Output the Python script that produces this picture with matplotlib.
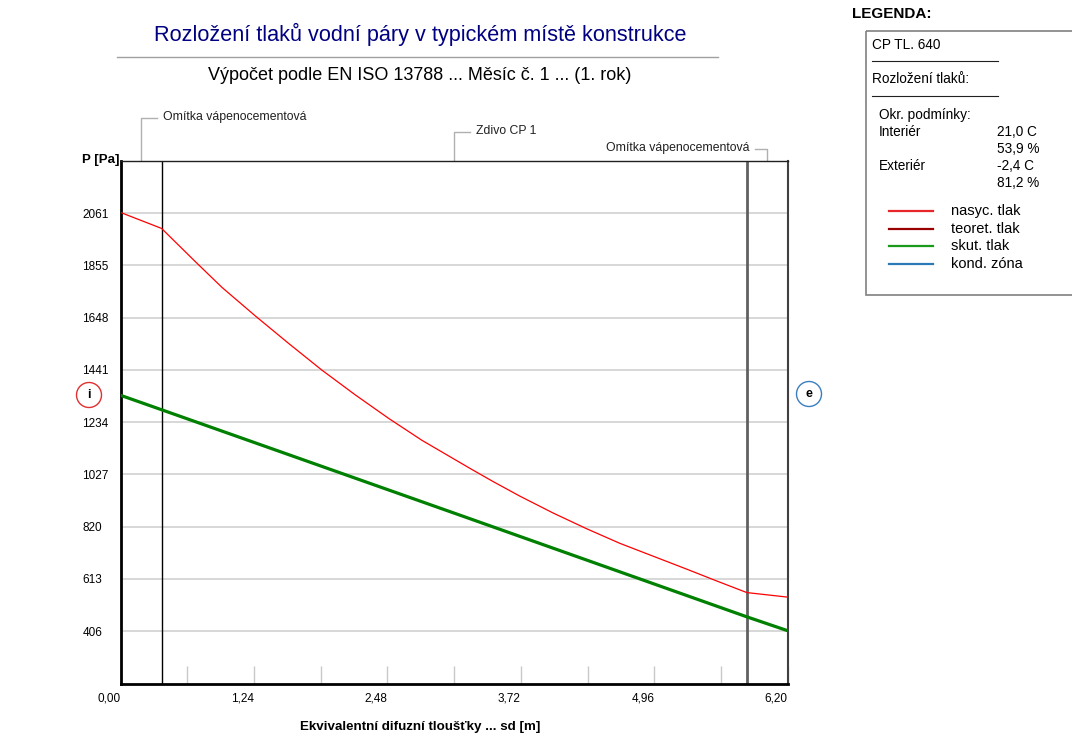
import matplotlib.pyplot as plt
from matplotlib.patches import Circle, Rectangle

plt.rcParams['font.family'] = ['Liberation Sans', 'DejaVu Sans']

# construction layers (equivalent diffusion thickness sd, m)
layer_names = ['Omítka vápenocementová', 'Zdivo CP 1', 'Omítka vápenocementová']
layer_edges = [0.0, 0.38, 5.82, 6.20]

# saturated vapour pressure (nasyc. tlak), Pa
sat_sd = [0.0, 0.38, 0.69, 0.94, 1.25, 1.56, 1.87, 2.18, 2.49, 2.80, 3.25,
          3.46, 3.71, 4.02, 4.33, 4.64, 4.95, 5.26, 5.54, 5.82, 6.20]
sat_p = [2064, 2001, 1871, 1768, 1655, 1546, 1440, 1342, 1249, 1162, 1050,
         999, 941, 874, 812, 754, 703, 652, 605, 559, 541]

# actual vapour pressure (skut. tlak), Pa
act_sd = [0.0, 0.38, 3.25, 5.82, 6.20]
act_p = [1340, 1283, 851, 463, 408]

x_ticks = [0.0, 0.62, 1.24, 1.86, 2.48, 3.10, 3.72, 4.34, 4.96, 5.58, 6.20]
x_tick_labels = ['0,00', '', '1,24', '', '2,48', '', '3,72', '', '4,96', '', '6,20']
y_ticks = [406, 613, 820, 1027, 1234, 1441, 1648, 1855, 2061]
y_tick_labels = ['406', '613', '820', '1027', '1234', '1441', '1648', '1855', '2061']

legend_labels = ['nasyc. tlak', 'teoret. tlak', 'skut. tlak', 'kond. zóna']
legend_colors = ['#e8262a', '#990000', '#1a9a1a', '#2a7ab8']

cond_rows = [('Interiér', '21,0 C'), ('', '53,9 %'), ('Exteriér', '-2,4 C'), ('', '81,2 %')]

W, H = 1072, 738
fig = plt.figure(figsize=(W / 100, H / 100), dpi=100)
ax = fig.add_axes([120.7 / W, 1 - 684 / H, 667 / W, 523 / H])

ax.plot(sat_sd, sat_p, color='#ff0000', lw=0.9, zorder=3)
ax.plot(act_sd, act_p, color='#008000', lw=2.3, zorder=3)

ax.set_xlim(layer_edges[0], layer_edges[-1])
ax.set_ylim(197, 2268)
ax.set_xticks(x_ticks)
ax.set_xticklabels(x_tick_labels, ha='right', fontsize=8.5)
ax.tick_params(axis='x', direction='in', length=13, width=1, color='#c8c8c8', pad=6)
ax.set_yticks(y_ticks)
ax.set_yticklabels(y_tick_labels, ha='left', fontsize=8.5)
ax.tick_params(axis='y', length=0, pad=27.5)
ax.grid(axis='y', color='#d4d4d4', lw=1.3)
ax.set_axisbelow(True)

# layer boundaries
ax.axvline(layer_edges[1], color='black', lw=1, zorder=2)
ax.axvline(layer_edges[2], color='#606060', lw=2, zorder=2)

ax.spines['left'].set_linewidth(2)
ax.spines['bottom'].set_linewidth(2)
ax.spines['top'].set_linewidth(1)
ax.spines['top'].set_color('#202020')
ax.spines['right'].set_linewidth(1.5)
ax.spines['right'].set_color('#404040')

# overlay in pixel coordinates for the decorations
ov = fig.add_axes([0, 0, 1, 1], zorder=-1)
ov.set_xlim(0, W)
ov.set_ylim(H, 0)
ov.axis('off')


def to_px(x, y):
    dx, dy = ax.transData.transform((x, y))
    return dx, H - dy


# layer labels with leader lines
top_y = to_px(0, ax.get_ylim()[1])[1]
leader = [(118, 16, 'left'), (132, 16, 'left'), (149, -12, 'right')]
for i, name in enumerate(layer_names):
    mid = (layer_edges[i] + layer_edges[i + 1]) / 2
    mx = to_px(mid, 0)[0]
    ly, arm, side = leader[i]
    ov.plot([mx, mx, mx + arm], [top_y, ly, ly], color='#b0b0b0', lw=1)
    tx = mx + arm + (6 if side == 'left' else -6)
    ov.text(tx, ly - 1, name, ha=side, va='center', fontsize=8.8, color='#202020')

# titles
ov.text(420, 34, 'Rozložení tlaků vodní páry v typickém místě konstrukce',
        ha='center', va='center', fontsize=15.6, color='#000080')
ov.plot([117, 718], [57, 57], color='#a0a0a0', lw=1)
ov.text(420, 76, 'Výpočet podle EN ISO 13788 ... Měsíc č. 1 ... (1. rok)',
        ha='center', va='center', fontsize=13, color='black')
ov.text(82, 160, 'P [Pa]', ha='left', va='center', fontsize=9.5, fontweight='bold')
ov.text(420, 727, 'Ekvivalentní difuzní tloušťky ... sd [m]', ha='center', va='center',
        fontsize=9.6, fontweight='bold')

# interior / exterior markers
ov.add_patch(Circle((89, 395), 12.5, fill=False, ec='#e03030', lw=1))
ov.text(89, 395, 'i', ha='center', va='center', fontsize=9, fontweight='bold')
ov.add_patch(Circle((809, 394), 12.5, fill=False, ec='#3a7ec0', lw=1))
ov.text(809, 394, 'e', ha='center', va='center', fontsize=9, fontweight='bold')

# legend panel
ov.text(852, 14, 'LEGENDA:', ha='left', va='center', fontsize=11, fontweight='bold')
ov.add_patch(Rectangle((866, 31), 230, 264, fill=False, ec='#808080', lw=1.2, clip_on=False))
ov.text(872, 45, 'CP TL. 640', ha='left', va='center', fontsize=9.8)
ov.plot([872, 998], [61, 61], color='#202020', lw=0.8)
ov.text(872, 79, 'Rozložení tlaků:', ha='left', va='center', fontsize=9.8)
ov.plot([872, 998], [96, 96], color='#202020', lw=0.8)
ov.text(879, 115, 'Okr. podmínky:', ha='left', va='center', fontsize=9.8)
for k, (name, val) in enumerate(cond_rows):
    yy = 132 + k * 17
    ov.text(879, yy, name, ha='left', va='center', fontsize=9.8)
    ov.text(997, yy, val, ha='left', va='center', fontsize=9.8)
for k, (lab, col) in enumerate(zip(legend_labels, legend_colors)):
    yy = 211 + k * 17.7
    ov.plot([889, 933], [yy, yy], color=col, lw=1.6)
    ov.text(951, yy, lab, ha='left', va='center', fontsize=10.5)

fig.savefig('out.png', dpi=100)
